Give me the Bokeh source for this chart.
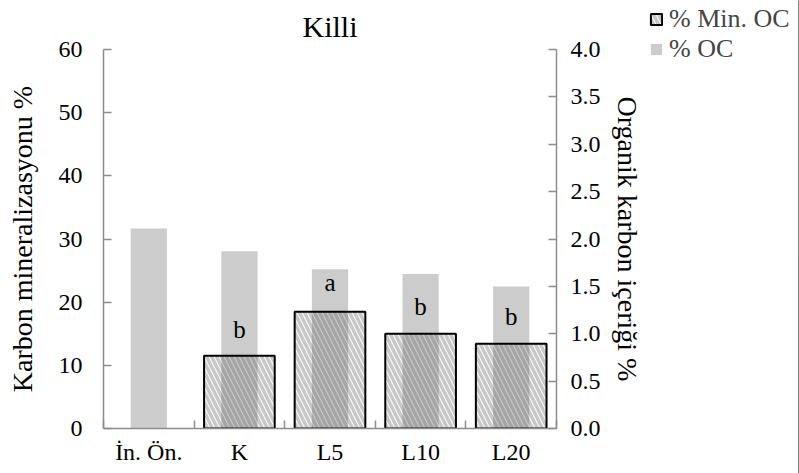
from bokeh.plotting import figure
from bokeh.layouts import row, column
from bokeh.models import (Range1d, LinearAxis, FixedTicker, ColumnDataSource,
                          Whisker, TeeHead, Legend, LegendItem)
from bokeh.core.properties import value
from bokeh.embed import file_html
from bokeh.resources import INLINE

# Data
categories = ["İn. Ön.", "K", "L5", "L10", "L20"]
min_oc = [0.0, 11.5, 18.5, 15.0, 13.4]        # % carbon mineralisation (left axis)
min_oc_err = [0.0, 0.6, 1.0, 0.75, 0.7]
oc = [2.11, 1.87, 1.68, 1.63, 1.50]           # % organic carbon (right axis)
letters = ["", "b", "a", "b", "b"]
left_ticks = [0, 10, 20, 30, 40, 50, 60]
right_ticks = [0.0, 0.5, 1.0, 1.5, 2.0, 2.5, 3.0, 3.5, 4.0]

FONT = "Liberation Serif"
AXIS_GRAY = "#8c8c8c"
OC_GRAY = "#cccccc"
HATCH = dict(hatch_pattern="\\", hatch_color="#555555", hatch_alpha=0.32,
             hatch_scale=10, hatch_weight=3.5)

MAIN_W = 645
LEG_W = 799 - MAIN_W
n = len(categories)
xc = [i + 0.5 for i in range(n)]

p = figure(width=MAIN_W, height=473, output_backend="svg", toolbar_location=None,
           x_range=Range1d(0, n), y_range=Range1d(0, 60),
           min_border_left=103, min_border_right=MAIN_W - 565,
           min_border_top=46, min_border_bottom=45,
           title="Killi")
p.outline_line_color = None
p.grid.grid_line_color = None
p.background_fill_color = "white"
p.border_fill_color = "white"

p.title.text_font = FONT
p.title.text_font_size = "30px"
p.title.text_font_style = "normal"
p.title.text_color = "black"
p.title.align = "center"
p.title.offset = 0
if "standoff" in p.title.properties():
    p.title.standoff = 14

p.extra_y_ranges = {"oc": Range1d(0, 4)}

# Organic carbon bars (secondary axis)
src_oc = ColumnDataSource(dict(x=xc, oc=oc))
p.vbar(x="x", top="oc", width=0.4, source=src_oc, y_range_name="oc",
       fill_color=OC_GRAY, line_color=None)

# Mineralised carbon bars, hatched and see-through
mask = [v > 0 for v in min_oc]
src_min = ColumnDataSource(dict(
    x=[x for x, m in zip(xc, mask) if m],
    top=[v for v, m in zip(min_oc, mask) if m],
    upper=[v + e for v, e, m in zip(min_oc, min_oc_err, mask) if m],
    lower=[v - e for v, e, m in zip(min_oc, min_oc_err, mask) if m],
    lab=[t for t, m in zip(letters, mask) if m],
))
p.vbar(x="x", top="top", width=0.78, source=src_min,
       fill_alpha=0, line_color="black", line_width=2, **HATCH)

p.add_layout(Whisker(base="x", upper="upper", lower="lower", source=src_min,
                     line_color="black", line_width=1.5,
                     upper_head=TeeHead(size=11, line_color="black", line_width=1.5),
                     lower_head=TeeHead(size=11, line_color="black", line_width=1.5)))

p.text(x="x", y="upper", text="lab", source=src_min, text_align="center",
       text_baseline="bottom", y_offset=-9, text_font=value(FONT),
       text_font_size="25px", text_color="black")

# Axes
def style_axis(ax):
    ax.axis_line_color = AXIS_GRAY
    ax.axis_line_width = 1.5
    ax.major_tick_line_color = AXIS_GRAY
    ax.major_tick_line_width = 1.5
    ax.major_tick_in = 8
    ax.major_tick_out = 0
    ax.minor_tick_line_color = None
    ax.major_label_text_font = FONT
    ax.major_label_text_font_size = "24px"
    ax.major_label_text_color = "black"
    ax.axis_label_text_font = FONT
    ax.axis_label_text_font_size = "28px"
    ax.axis_label_text_font_style = "normal"
    ax.axis_label_text_color = "black"

yl = p.yaxis[0]
style_axis(yl)
yl.ticker = FixedTicker(ticks=left_ticks)
yl.axis_label = "Karbon mineralizasyonu %"
yl.major_label_standoff = 21
yl.axis_label_standoff = 18

yr = LinearAxis(y_range_name="oc", ticker=FixedTicker(ticks=right_ticks),
                axis_label="Organik karbon içeriği %")
style_axis(yr)
yr.major_label_overrides = {t: f"{t:.1f}" for t in right_ticks}
yr.major_label_standoff = 14
yr.axis_label_standoff = 8
p.add_layout(yr, "right")

xa = p.xaxis[0]
style_axis(xa)
xa.ticker = FixedTicker(ticks=xc, minor_ticks=list(range(n + 1)))
xa.major_label_overrides = {x: c for x, c in zip(xc, categories)}
xa.major_tick_line_color = None
xa.minor_tick_line_color = AXIS_GRAY
xa.minor_tick_line_width = 1.5
xa.minor_tick_in = 8
xa.minor_tick_out = 0
xa.major_label_standoff = 10

# Legend panel to the right of the chart; the key glyphs sit outside its ranges
lg = figure(width=LEG_W, height=473, output_backend="svg",
            toolbar_location=None, x_range=Range1d(0, 1), y_range=Range1d(0, 1),
            x_axis_type=None, y_axis_type=None, title=None, min_border=0)
lg.outline_line_color = None
lg.background_fill_color = "white"
lg.border_fill_color = "white"
key_src = ColumnDataSource(dict(x=[5], top=[1]))
k_min = lg.vbar(x="x", top="top", width=0.1, source=key_src,
                fill_alpha=0, line_color="black", line_width=2, **HATCH)
k_oc = lg.vbar(x="x", top="top", width=0.1, source=key_src,
               fill_color=OC_GRAY, line_color=None)
legend = Legend(items=[LegendItem(label="% Min. OC", renderers=[k_min]),
                       LegendItem(label="% OC", renderers=[k_oc])],
                location="top_left", orientation="vertical",
                background_fill_alpha=0, border_line_color=None,
                padding=0, margin=4, spacing=0,
                glyph_width=14, glyph_height=14, label_standoff=6,
                label_height=30,
                label_text_font=FONT, label_text_font_size="26px")
lg.add_layout(legend, "center")

layout = row(p, column(lg, spacing=0), spacing=0)
open("out.html", "w").write(file_html(layout, INLINE))
